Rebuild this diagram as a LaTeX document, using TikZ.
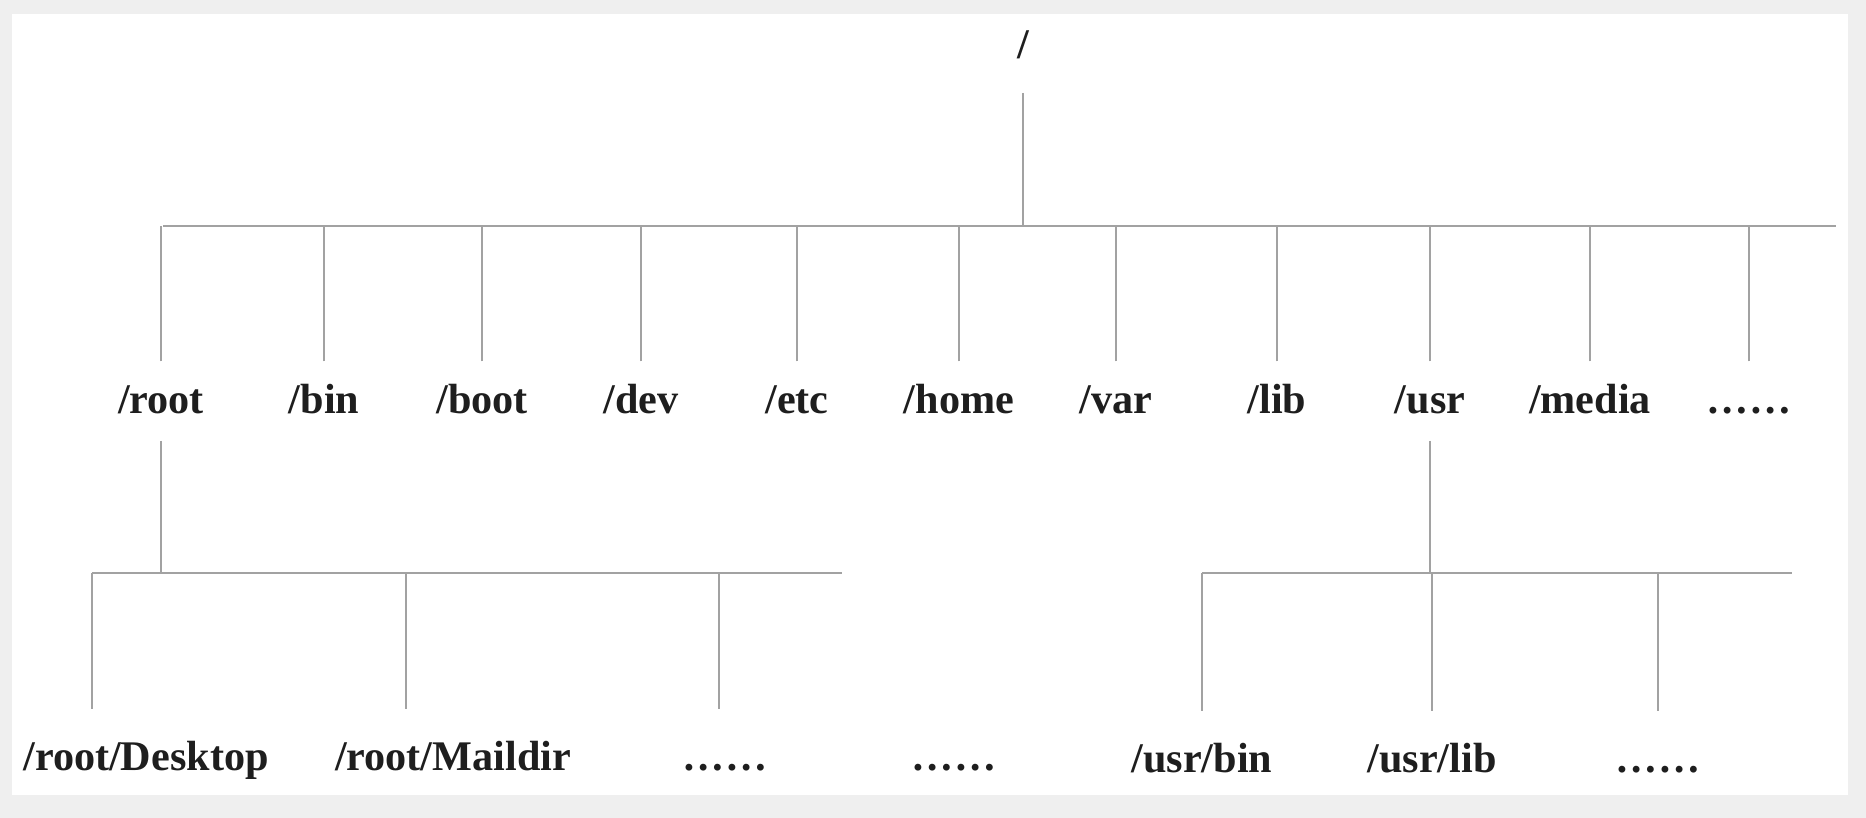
\documentclass[tikz,border=0pt]{standalone}
\usepackage{xcolor}
\usepackage{fontspec}
\setmainfont{Liberation Serif}
\usepackage{tikz}
\usetikzlibrary{positioning, calc}
\definecolor{Frame}{HTML}{EFEFEF}
\definecolor{Wire}{HTML}{A2A2A2}
\definecolor{Ink}{HTML}{1E1E1E}

\begin{document}
\begin{tikzpicture}[
  x=0.01cm, y=-0.01cm,
  dir/.style={font=\fontsize{12}{14}\selectfont\bfseries, text=Ink, inner sep=0pt, text height=8.4pt, text depth=3pt, anchor=base},
  wire/.style={draw=Wire, line width=0.65pt},
  up/.style={wire, shorten <=6.1pt},
  down/.style={wire, shorten <=4.7pt},
  drop/.style={wire, shorten >=8.7pt}
]
% frame
\fill[Frame] (0,0) rectangle (1866,818);
\fill[white] (12,14) rectangle (1848,795);

% top level
\node[dir] (slash) at (1023,58) {/};
\coordinate (topL) at (163,226);
\coordinate (topR) at (1836,226);
\draw[wire, shorten <=6.7pt] (slash.south) -- (slash.south |- topL);
\draw[wire] (topL) -- (topR);

\foreach \d/\x in {root/161, bin/324, boot/482, dev/641, etc/797, home/959, var/1116, lib/1277, usr/1430, media/1590}{
  \node[dir] (\d) at (\x,413) {/\d};
  \draw[up] (\d.north) -- (\d.north |- topL);
}
\node[dir] (more) at (1749,413) {……};
\draw[up] (more.north) -- (more.north |- topR);

% /root
\coordinate (rootL) at (92,573);
\coordinate (rootR) at (842,573);
\coordinate (tapMail) at (406,573);
\coordinate (tapRoot) at (719,573);
\draw[down] (root.south) -- (root.south |- rootL);
\draw[wire] (rootL) -- (rootR);
\node[dir] (desk) at (146,770) {/root/Desktop};
\node[dir] (mail) at (453,770) {/root/Maildir};
\node[dir] (rootmore) at (725,770) {……};
\draw[drop] (rootL) -- (rootL |- desk.north);
\draw[drop] (tapMail) -- (tapMail |- mail.north);
\draw[drop] (tapRoot) -- (tapRoot |- rootmore.north);

\node[dir] (others) at (954,770) {……};

% /usr
\coordinate (usrL) at (1202,573);
\coordinate (usrR) at (1792,573);
\draw[down] (usr.south) -- (usr.south |- usrL);
\draw[wire] (usrL) -- (usrR);
\node[dir] (usrbin) at (1202,772) {/usr/bin};
\node[dir] (usrlib) at (1432,772) {/usr/lib};
\node[dir] (usrmore) at (1658,772) {……};
\draw[drop] (usrbin.north |- usrL) -- (usrbin.north);
\draw[drop] (usrlib.north |- usrL) -- (usrlib.north);
\draw[drop] (usrmore.north |- usrL) -- (usrmore.north);
\end{tikzpicture}
\end{document}
